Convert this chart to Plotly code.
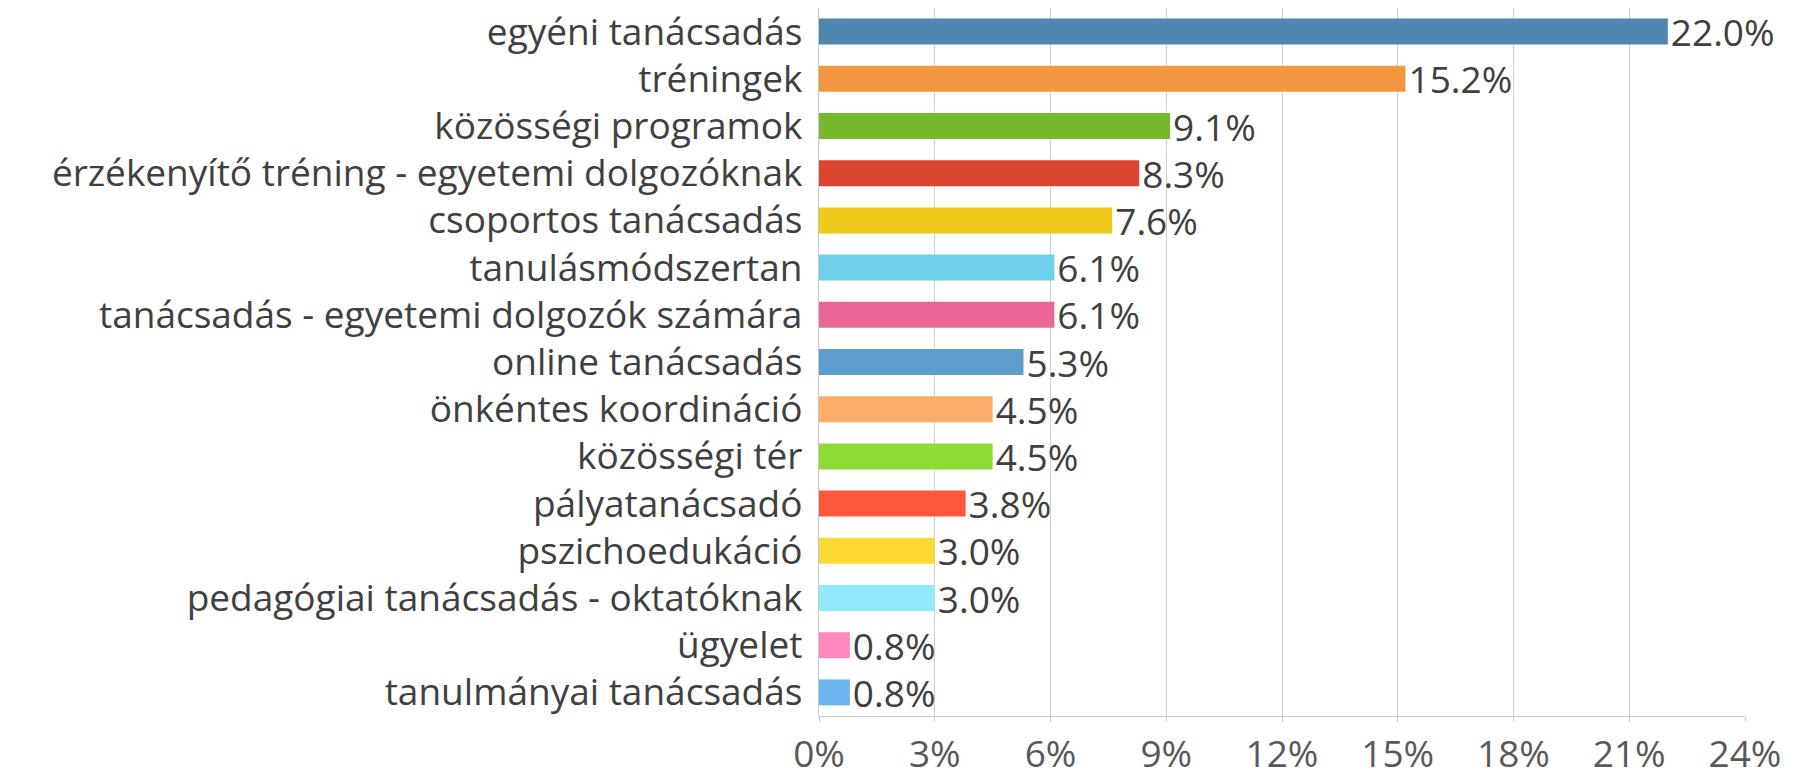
import plotly.graph_objects as go

categories = [
    "egyéni tanácsadás",
    "tréningek",
    "közösségi programok",
    "érzékenyítő tréning - egyetemi dolgozóknak",
    "csoportos tanácsadás",
    "tanulásmódszertan",
    "tanácsadás - egyetemi dolgozók számára",
    "online tanácsadás",
    "önkéntes koordináció",
    "közösségi tér",
    "pályatanácsadó",
    "pszichoedukáció",
    "pedagógiai tanácsadás - oktatóknak",
    "ügyelet",
    "tanulmányai tanácsadás",
]
values = [22.0, 15.2, 9.1, 8.3, 7.6, 6.1, 6.1, 5.3, 4.5, 4.5, 3.8, 3.0, 3.0, 0.8, 0.8]
colors = [
    "#4F86B0", "#F39641", "#77B82E", "#DC4630", "#EEC81A",
    "#6ED0EA", "#EA6699", "#5D9ECE", "#FDAD6A", "#8FDB36",
    "#FF573C", "#FDDA33", "#92E8FD", "#FF88BC", "#6CB5F0",
]
x_ticks = [0, 3, 6, 9, 12, 15, 18, 21, 24]

FONT = "Open Sans"
FS = 37

fig = go.Figure(
    go.Bar(
        x=values,
        y=categories,
        orientation="h",
        marker=dict(color=colors, line=dict(width=0)),
        text=[f"{v:.1f}%" for v in values],
        textposition="outside",
        constraintext="none",
        textfont=dict(family=FONT, size=FS, color="#404040"),
        cliponaxis=False,
        width=0.55,
    )
)

fig.update_layout(
    width=1802,
    height=771,
    margin=dict(l=811, r=65, t=0, b=63, autoexpand=False),
    paper_bgcolor="white",
    plot_bgcolor="white",
    showlegend=False,
    font=dict(family=FONT, size=FS, color="#404040"),
    xaxis=dict(
        range=[0, 24],
        tickvals=x_ticks,
        ticktext=[f"{t}%" for t in x_ticks],
        showgrid=True,
        gridcolor="#D0D0D0",
        gridwidth=1.3,
        zeroline=False,
        showline=True,
        linecolor="#C8C8C8",
        linewidth=1.3,
        ticks="outside",
        ticklen=5,
        tickcolor="#C8C8C8",
        tickfont=dict(family=FONT, size=FS, color="#595959"),
        automargin=False,
        fixedrange=True,
    ),
    yaxis=dict(
        categoryorder="array",
        categoryarray=categories[::-1],
        tickmode="array",
        tickvals=categories,
        ticktext=categories,
        showgrid=False,
        showline=True,
        linecolor="#C8C8C8",
        linewidth=1.3,
        ticks="",
        ticklabelstandoff=8,
        tickfont=dict(family=FONT, size=FS, color="#404040"),
        automargin=False,
        fixedrange=True,
    ),
)

fig.write_html("out.html")
